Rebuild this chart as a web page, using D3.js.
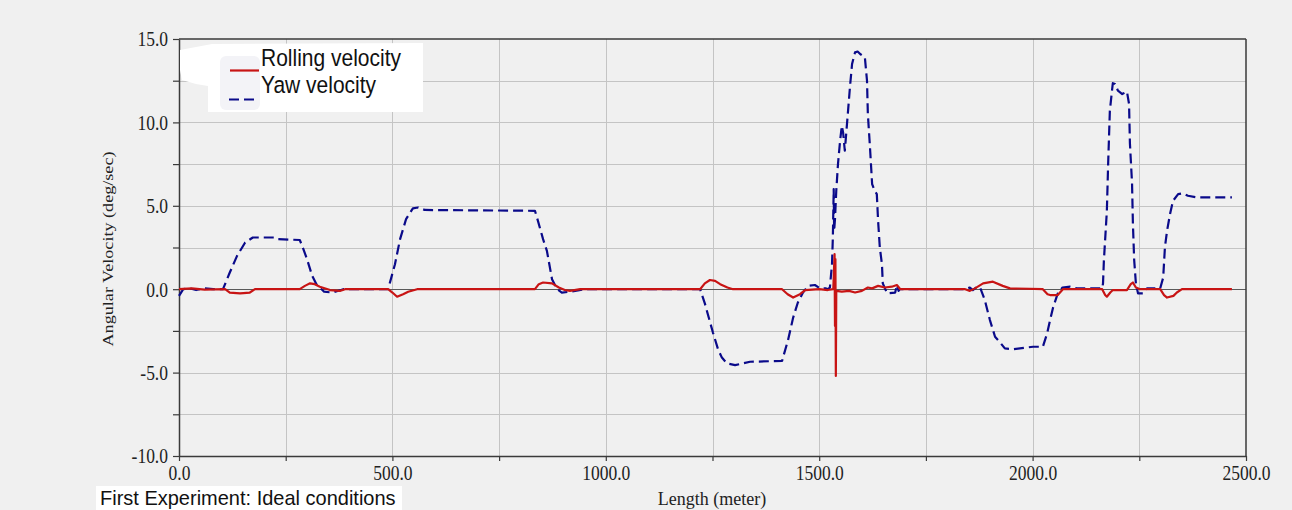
<!DOCTYPE html>
<html>
<head>
<meta charset="utf-8">
<script src="https://cdn.jsdelivr.net/npm/d3@7"></script>
<style>
  html, body { margin: 0; padding: 0; background: #f0f0f0; }
  svg { display: block; }
</style>
</head>
<body>
<svg id="chart" width="1292" height="510"></svg>
<script>
// Yaw velocity (deg/sec) against track length (m)
const yawDist = [0, 10, 25, 40, 60, 80, 103, 119, 136, 155, 173, 225, 232, 283, 290, 300, 312, 322, 340, 360, 385,
  490, 506, 518, 532, 548, 560, 576, 834, 841, 853, 862, 874, 886, 897, 916, 951,
  1221, 1232, 1251, 1263, 1272, 1284, 1303, 1338, 1413, 1427, 1439, 1450, 1462, 1474, 1490, 1502, 1515, 1520,
  1525, 1530, 1532, 1534, 1535, 1537, 1540, 1544, 1549, 1553, 1556, 1560, 1567, 1572, 1577, 1584, 1590, 1596,
  1607, 1612, 1614, 1619, 1624, 1630, 1635, 1638, 1642, 1647, 1649, 1659, 1678, 1682, 1686, 1689,
  1842, 1853, 1860, 1870, 1877, 1888, 1900, 1912, 1924, 1935, 1954, 2001, 2024, 2034, 2041, 2048, 2059, 2070,
  2088, 2104, 2163, 2165, 2167, 2174, 2177, 2181, 2186, 2188, 2193, 2200, 2210, 2221, 2226, 2228, 2233, 2235,
  2238, 2242, 2247, 2259, 2268, 2299, 2306, 2310, 2315, 2322, 2329, 2341, 2352, 2364, 2385, 2467];
const yawVel = [-0.4, 0, 0.05, -0.05, 0.05, 0, 0, 1.0, 2.0, 2.8, 3.1, 3.1, 3.0, 2.95, 2.5, 1.8, 0.8, 0.3, -0.15, -0.2, 0,
  0, 1.5, 3.0, 4.2, 4.85, 4.9, 4.75, 4.7, 4.1, 3.0, 2.3, 0.6, 0, -0.2, -0.15, 0,
  0, -0.85, -2.6, -3.6, -4.1, -4.45, -4.55, -4.35, -4.3, -3.05, -1.7, -0.8, -0.2, 0.2, 0.25, 0.05, 0.05, 0,
  0.1, 1.5, 3.1, 6.0, 3.5, 4.2, 5.9, 7.5, 8.9, 9.8, 9.4, 8.3, 10.5, 12.1, 13.5, 14.2, 14.25, 14.1,
  13.9, 12.5, 10.5, 8.5, 6.3, 5.9, 5.7, 4.1, 2.5, 1.5, 0.35, -0.25, -0.2, 0.25, -0.1, 0,
  0, 0.1, -0.05, 0.15, 0.1, -0.65, -1.85, -2.85, -3.2, -3.55, -3.6, -3.45, -3.45, -2.65, -1.85, -1.1, -0.25, 0.1,
  0.15, 0.05, 0.05, 0.35, 1.7, 4.7, 7.5, 10.7, 11.9, 12.35, 12.3, 11.9, 11.7, 11.85, 11.1, 8.75, 6.35, 3.95,
  1.75, 0.35, -0.25, -0.25, 0.05, 0.05, 0.7, 2.5, 3.5, 4.5, 5.3, 5.7, 5.75, 5.6, 5.5, 5.5];

// Rolling velocity (deg/sec) against track length (m)
const rollDist = [0, 30, 60, 108, 119, 143, 166, 178, 283, 295, 307, 318, 330, 354, 377, 389,
  490, 500, 511, 525, 537, 558, 834, 843, 853, 874, 890, 904, 916, 940,
  1221, 1232, 1244, 1256, 1268, 1285, 1298, 1413, 1426, 1439, 1455, 1467, 1500, 1520, 1533,
  1536, 1537, 1538, 1539, 1540, 1553, 1570, 1584, 1600, 1614, 1624, 1638, 1654, 1670, 1682, 1690,
  1842, 1853, 1865, 1884, 1907, 1930, 1947, 2024, 2035, 2041, 2059, 2071,
  2163, 2170, 2174, 2182, 2188, 2221, 2230, 2235, 2242, 2252, 2299, 2308, 2315, 2330, 2338, 2350, 2467];
const rollVel = [0, 0.05, -0.03, 0, -0.2, -0.25, -0.2, 0, 0, 0.2, 0.35, 0.3, 0.15, -0.05, -0.1, 0,
  0, -0.2, -0.45, -0.3, -0.15, 0, 0, 0.3, 0.4, 0.35, 0.1, -0.05, -0.1, 0,
  0, 0.35, 0.55, 0.5, 0.3, 0.1, 0, 0, -0.3, -0.5, -0.3, -0.05, 0, -0.05, 0,
  2.1, -2.2, 1.8, -5.2, -0.1, -0.15, -0.1, -0.2, -0.1, 0.1, 0.05, 0.2, 0.1, 0.15, 0.25, 0,
  0, -0.1, 0.05, 0.35, 0.45, 0.2, 0.05, 0, -0.3, -0.35, -0.35, 0,
  0, -0.35, -0.45, -0.2, -0.05, -0.05, 0.3, 0.4, 0.1, 0, 0, -0.35, -0.5, -0.4, -0.2, 0, 0];

const xMajor = [0, 500, 1000, 1500, 2000, 2500];
const yMajor = [-10, -5, 0, 5, 10, 15];
const seriesNames = ["Rolling velocity", "Yaw velocity"];
const caption = "First Experiment: Ideal conditions";
const xTitle = "Length (meter)";
const yTitle = "Angular Velocity (deg/sec)";

const SY = 1.17;            // vertical text stretch
const serif = "'Liberation Serif', 'Times New Roman', serif";
const sans = "'Liberation Sans', Arial, sans-serif";
const RED = "#c81414";
const BLUE = "#0a0a8a";

const svg = d3.select("#chart");
const x = d3.scaleLinear().domain([0, 2500]).range([179, 1246]);
const y = d3.scaleLinear().domain([-10, 15]).range([456, 39]);

// grid
const grid = svg.append("g").attr("stroke", "#c4c4c4").attr("stroke-width", 1);
grid.selectAll("line.v").data(d3.range(250, 2500, 250)).join("line")
  .attr("x1", d => Math.round(x(d)) + 0.5).attr("x2", d => Math.round(x(d)) + 0.5)
  .attr("y1", y(15)).attr("y2", y(-10));
grid.selectAll("line.h").data(d3.range(-7.5, 15, 2.5).filter(v => v !== 0)).join("line")
  .attr("x1", x(0)).attr("x2", x(2500))
  .attr("y1", d => Math.round(y(d)) + 0.5).attr("y2", d => Math.round(y(d)) + 0.5);

// zero line
svg.append("line").attr("x1", x(0)).attr("x2", x(2500))
  .attr("y1", Math.round(y(0)) + 0.5).attr("y2", Math.round(y(0)) + 0.5)
  .attr("stroke", "#5a5a5a").attr("stroke-width", 1.2);

// frame top and right
svg.append("line").attr("x1", x(0)).attr("x2", x(2500)).attr("y1", y(15)).attr("y2", y(15))
  .attr("stroke", "#3a3a3a").attr("stroke-width", 1.5);
svg.append("line").attr("x1", x(2500)).attr("x2", x(2500)).attr("y1", y(15)).attr("y2", y(-10))
  .attr("stroke", "#3a3a3a").attr("stroke-width", 1.5);

// axes (plain hyphen for negative labels)
const fmt = d3.formatLocale({ decimal: ".", thousands: "", grouping: [3], currency: ["", ""], minus: "-" }).format(".1f");
const xAxis = d3.axisBottom(x).tickValues(d3.range(0, 2501, 250))
  .tickFormat(d => xMajor.includes(d) ? fmt(d) : "").tickSizeInner(5).tickSizeOuter(0);
const yAxis = d3.axisLeft(y).tickValues(d3.range(-10, 15.01, 2.5))
  .tickFormat(d => yMajor.includes(d) ? fmt(d) : "").tickSizeInner(6).tickSizeOuter(0);

const gx = svg.append("g").attr("transform", `translate(0,${y(-10)})`).call(xAxis);
const gy = svg.append("g").attr("transform", `translate(${x(0)},0)`).call(yAxis);
[gx, gy].forEach(g => {
  g.select(".domain").attr("stroke", "#3a3a3a").attr("stroke-width", 1.5);
  g.selectAll(".tick line").attr("stroke", "#3a3a3a").attr("stroke-width", 1.2);
  g.selectAll(".tick text").attr("font-family", serif).attr("font-size", 17.5).attr("fill", "#222");
});
gx.selectAll(".tick text").attr("y", 24.5 / SY).attr("dy", null)
  .attr("transform", `scale(1,${SY})`);
gy.selectAll(".tick text").attr("x", -11).attr("dy", "0.34em")
  .attr("transform", `scale(1,${SY})`);

// series
const lineGen = d3.line().x(d => x(d[0])).y(d => y(d[1])).curve(d3.curveLinear);
const yawPts = yawDist.map((d, i) => [d, yawVel[i]]);
const rollPts = rollDist.map((d, i) => [d, rollVel[i]]);

svg.append("path").datum(yawPts).attr("d", lineGen)
  .attr("fill", "none").attr("stroke", BLUE).attr("stroke-width", 2.2)
  .attr("stroke-dasharray", "10,5").attr("stroke-linejoin", "round");
svg.append("path").datum(rollPts).attr("d", lineGen)
  .attr("fill", "none").attr("stroke", RED).attr("stroke-width", 2.2)
  .attr("stroke-linejoin", "round");

// legend
const lg = svg.append("g");
lg.append("path")
  .attr("d", "M180,50 L196,47 L212,44 L423,43 L423,112 L208,112 L208,86 L196,84 L182,80 L180,70 Z")
  .attr("fill", "#ffffff");
lg.append("rect").attr("x", 220).attr("y", 56).attr("width", 40).attr("height", 54)
  .attr("rx", 6).attr("fill", "#f3f3f7");
lg.append("line").attr("x1", 230).attr("x2", 259).attr("y1", 70.5).attr("y2", 70.5)
  .attr("stroke", RED).attr("stroke-width", 2.2);
lg.append("line").attr("x1", 229).attr("x2", 259).attr("y1", 99.5).attr("y2", 99.5)
  .attr("stroke", BLUE).attr("stroke-width", 2.2).attr("stroke-dasharray", "10,5");
seriesNames.forEach((name, i) => {
  lg.append("text").attr("transform", `translate(261,${66 + i * 27}) scale(1,${SY})`)
    .attr("font-family", sans).attr("font-size", 21).attr("fill", "#111").text(name);
});

// axis titles
svg.append("text").attr("transform", `translate(712,505) scale(1,1.1)`)
  .attr("text-anchor", "middle").attr("font-family", serif).attr("font-size", 18)
  .attr("fill", "#222").text(xTitle);
svg.append("text").attr("transform", `translate(113,249) scale(1,${SY}) rotate(-90)`)
  .attr("text-anchor", "middle").attr("font-family", serif).attr("font-size", 15.5)
  .attr("fill", "#222").text(yTitle);

// caption
svg.append("rect").attr("x", 96).attr("y", 486).attr("width", 306).attr("height", 24).attr("fill", "#ffffff");
svg.append("text").attr("transform", `translate(100,505) scale(1,1.05)`)
  .attr("font-family", sans).attr("font-size", 20).attr("fill", "#111").text(caption);
</script>
</body>
</html>
